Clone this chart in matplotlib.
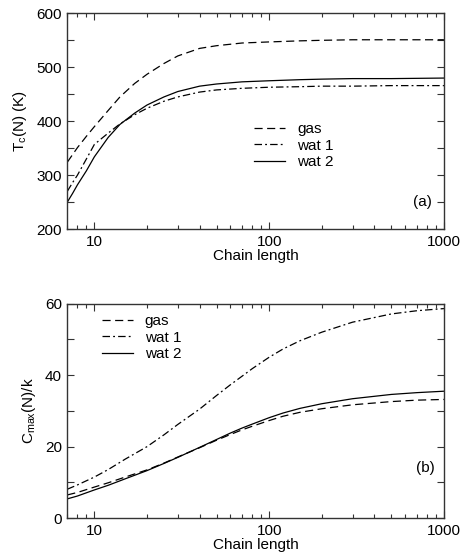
import numpy as np
import matplotlib
matplotlib.use("Agg")
import matplotlib.pyplot as plt
from matplotlib.ticker import MultipleLocator, LogLocator, NullFormatter, FixedLocator

plt.rcParams['font.family'] = ['Liberation Sans', 'DejaVu Sans']
plt.rcParams['font.size'] = 11

# --- data ---
# (a) critical temperature vs chain length
n_top = [7, 7.5, 8, 9, 10, 12, 14, 17, 20, 25, 30, 40, 50, 70, 100, 150, 200, 300, 500, 1000]
tc_gas = [324, 338, 351, 372, 390, 420, 445, 470, 487, 507, 521, 535, 540, 545, 547, 549, 550, 551, 551, 551]
tc_wat1 = [270, 286, 300, 330, 357, 378, 395, 412, 424, 437, 445, 454, 458, 461, 463, 464, 465, 465, 466, 466]
tc_wat2 = [250, 266, 282, 308, 334, 370, 394, 415, 430, 445, 455, 465, 469, 473, 475, 477, 478, 479, 479, 480]

# (b) C_max vs chain length
n_bot = [7, 8, 10, 12, 15, 20, 25, 30, 40, 50, 60, 70, 80, 100, 120, 150, 200, 300, 500, 700, 1000]
cm_gas = [6.5, 7.2, 8.7, 9.9, 11.5, 13.5, 15.4, 17.1, 19.7, 21.8, 23.4, 24.7, 25.7, 27.3, 28.5, 29.6, 30.6, 31.7, 32.6, 33.0, 33.2]
cm_wat1 = [8.1, 9.3, 11.5, 13.6, 16.5, 20.0, 23.3, 26.2, 30.5, 34.3, 37.3, 39.7, 41.8, 45.0, 47.3, 49.6, 52.0, 54.8, 57.1, 58.0, 58.6]
cm_wat2 = [5.4, 6.2, 7.9, 9.2, 11.0, 13.3, 15.3, 17.0, 19.8, 22.0, 23.8, 25.2, 26.3, 28.1, 29.4, 30.7, 32.0, 33.4, 34.6, 35.1, 35.5]

labels = ["gas", "wat 1", "wat 2"]
DASH = (6.5, 3.6)
DASHDOT = (6, 2.5, 1.5, 2.5)
LW = 0.9

fig = plt.figure(figsize=(4.61, 5.56), dpi=100)
ax1 = fig.add_axes([0.146, 0.588, 0.817, 0.388])
ax2 = fig.add_axes([0.146, 0.068, 0.817, 0.386])


def style_axis(ax):
    ax.set_xscale("log")
    ax.set_xlim(7, 1000)
    ax.xaxis.set_major_locator(FixedLocator([10, 100, 1000]))
    ax.xaxis.set_major_formatter(plt.FuncFormatter(lambda v, p: f"{int(v)}"))
    ax.xaxis.set_minor_locator(LogLocator(base=10, subs=np.arange(2, 10), numticks=20))
    ax.xaxis.set_minor_formatter(NullFormatter())
    ax.tick_params(which="both", direction="in", top=True, right=True, width=0.8, color="#333333")
    ax.tick_params(which="major", length=5, pad=4)
    ax.tick_params(which="minor", length=3)
    for s in ax.spines.values():
        s.set_linewidth(1.0)
        s.set_color("#333333")
    ax.set_xlabel("Chain length", labelpad=0)


# --- panel (a) ---
ax1.plot(n_top, tc_gas, color="black", lw=LW, dashes=DASH, label=labels[0])
ax1.plot(n_top, tc_wat1, color="black", lw=LW, dashes=DASHDOT, label=labels[1])
ax1.plot(n_top, tc_wat2, color="black", lw=LW, ls="-", label=labels[2])
style_axis(ax1)
ax1.set_ylim(200, 600)
ax1.yaxis.set_major_locator(MultipleLocator(100))
ax1.yaxis.set_minor_locator(MultipleLocator(50))
ax1.tick_params(axis="y", which="minor", length=5)
ax1.set_ylabel(r"T$_\mathregular{c}$(N) (K)", labelpad=5)
ax1.legend(loc="upper left", bbox_to_anchor=(0.497, 0.495), frameon=False,
           handlelength=2.0, handletextpad=0.8, labelspacing=0.15,
           borderpad=0, borderaxespad=0)
ax1.text(0.942, 0.125, "(a)", transform=ax1.transAxes, ha="center", va="center")

# --- panel (b) ---
ax2.plot(n_bot, cm_gas, color="black", lw=LW, dashes=DASH, label=labels[0])
ax2.plot(n_bot, cm_wat1, color="black", lw=LW, dashes=DASHDOT, label=labels[1])
ax2.plot(n_bot, cm_wat2, color="black", lw=LW, ls="-", label=labels[2])
style_axis(ax2)
ax2.set_ylim(0, 60)
ax2.yaxis.set_major_locator(MultipleLocator(20))
ax2.yaxis.set_minor_locator(MultipleLocator(10))
ax2.tick_params(axis="y", which="minor", length=5)
ax2.set_ylabel(r"C$_\mathregular{max}$(N)/k", labelpad=5)
ax2.legend(loc="upper left", bbox_to_anchor=(0.092, 0.95), frameon=False,
           handlelength=2.0, handletextpad=0.8, labelspacing=0.15,
           borderpad=0, borderaxespad=0)
ax2.text(0.95, 0.234, "(b)", transform=ax2.transAxes, ha="center", va="center")

fig.savefig("out.png", dpi=100)
